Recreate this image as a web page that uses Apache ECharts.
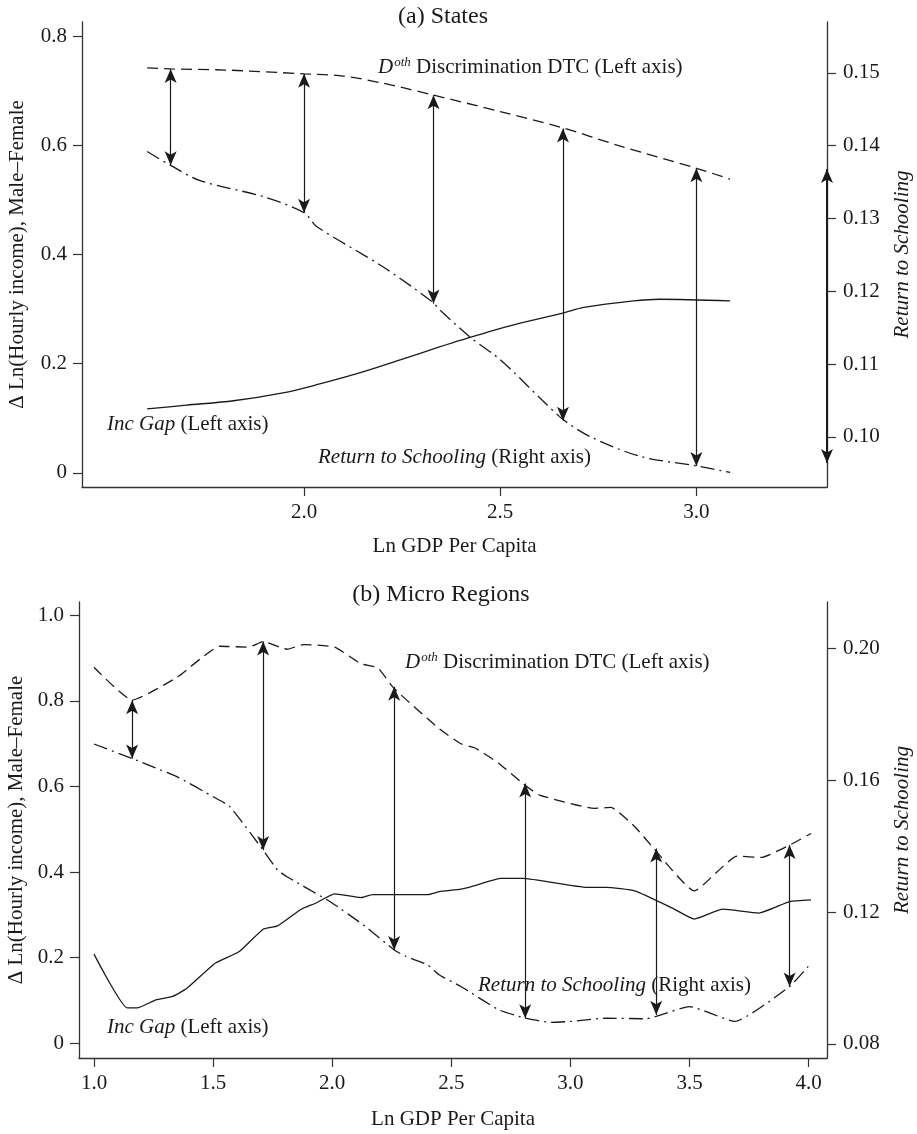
<!DOCTYPE html>
<html>
<head>
<meta charset="utf-8">
<script src="https://cdn.jsdelivr.net/npm/echarts@6/dist/echarts.min.js"></script>
<style>
html,body{margin:0;padding:0;background:#fff;}
#chart{width:917px;height:1134px;}
</style>
</head>
<body>
<div id="chart"></div>
<script>
// ---------- DATA ----------
// Panel (a) States
var statesDothX = [1.60, 1.66, 1.80, 2.00, 2.10, 2.20, 2.33, 2.50, 2.66, 2.80, 3.00, 3.086];
var statesDoth  = [0.742, 0.740, 0.738, 0.731, 0.727, 0.714, 0.692, 0.662, 0.632, 0.600, 0.558, 0.538];

var statesGapX = [1.60, 1.70, 1.82, 1.95, 2.03, 2.15, 2.245, 2.347, 2.40, 2.517, 2.662, 2.713, 2.84, 2.908, 3.086];
var statesGap  = [0.117, 0.124, 0.132, 0.147, 0.161, 0.185, 0.207, 0.231, 0.243, 0.268, 0.293, 0.303, 0.315, 0.318, 0.315];

var statesRetX = [1.60, 1.66, 1.735, 1.896, 2.00, 2.032, 2.20, 2.328, 2.347, 2.423, 2.50, 2.602, 2.662, 2.730, 2.857, 3.00, 3.086];
var statesRet  = [0.1392, 0.1373, 0.1352, 0.1330, 0.1308, 0.1289, 0.1234, 0.1185, 0.1174, 0.1137, 0.1106, 0.1053, 0.1023, 0.1000, 0.0973, 0.0960, 0.0951];

var statesArrowX      = [1.66, 2.00, 2.33, 2.66, 3.00];
var statesArrowTop    = [0.740, 0.731, 0.692, 0.631, 0.558];      // left axis
var statesArrowBottom = [0.1373, 0.1308, 0.1183, 0.1022, 0.0960]; // right axis
var statesRangeArrow  = [0.1368, 0.0964];                          // right axis

var statesXTicks = [2.0, 2.5, 3.0];
var statesXTickLabels = ['2.0', '2.5', '3.0'];
var statesLTicks = [0, 0.2, 0.4, 0.6, 0.8];
var statesLTickLabels = ['0', '0.2', '0.4', '0.6', '0.8'];
var statesRTicks = [0.10, 0.11, 0.12, 0.13, 0.14, 0.15];
var statesRTickLabels = ['0.10', '0.11', '0.12', '0.13', '0.14', '0.15'];

// Panel (b) Micro Regions
var regDothX = [1.00, 1.16, 1.35, 1.53, 1.65, 1.71, 1.81, 1.88, 2.01, 2.12, 2.19, 2.26, 2.45, 2.54, 2.60, 2.70, 2.80, 2.87, 3.10, 3.17, 3.27, 3.35, 3.52, 3.70, 3.80, 3.92, 4.01];
var regDoth  = [0.879, 0.802, 0.856, 0.928, 0.926, 0.939, 0.921, 0.932, 0.926, 0.887, 0.878, 0.829, 0.735, 0.700, 0.690, 0.654, 0.607, 0.580, 0.549, 0.551, 0.506, 0.455, 0.356, 0.437, 0.434, 0.463, 0.490];

var regGapX = [1.00, 1.14, 1.18, 1.26, 1.33, 1.39, 1.51, 1.61, 1.71, 1.77, 1.87, 1.93, 2.01, 2.12, 2.17, 2.40, 2.45, 2.54, 2.59, 2.71, 2.80, 3.07, 3.15, 3.27, 3.43, 3.52, 3.64, 3.79, 3.92, 4.01];
var regGap  = [0.208, 0.082, 0.082, 0.101, 0.109, 0.128, 0.187, 0.214, 0.266, 0.274, 0.313, 0.327, 0.349, 0.340, 0.347, 0.347, 0.354, 0.360, 0.367, 0.385, 0.385, 0.364, 0.364, 0.356, 0.315, 0.290, 0.313, 0.304, 0.331, 0.335];

var regRetX = [1.00, 1.16, 1.35, 1.50, 1.57, 1.71, 1.77, 1.81, 1.99, 2.14, 2.26, 2.31, 2.40, 2.45, 2.54, 2.70, 2.81, 2.92, 3.00, 3.15, 3.32, 3.38, 3.50, 3.69, 3.92, 4.01];
var regRet  = [0.1710, 0.1666, 0.1610, 0.1550, 0.1520, 0.1388, 0.1328, 0.1307, 0.1232, 0.1156, 0.1085, 0.1065, 0.1040, 0.1009, 0.0974, 0.0903, 0.0878, 0.0865, 0.0868, 0.0878, 0.0876, 0.0888, 0.0913, 0.0868, 0.0974, 0.1045];

var regArrowX      = [1.16, 1.71, 2.26, 2.81, 3.36, 3.92];
var regArrowTop    = [0.802, 0.939, 0.833, 0.607, 0.455, 0.463];        // left axis
var regArrowBottom = [0.1666, 0.1388, 0.1085, 0.0878, 0.0888, 0.0974];  // right axis

var regXTicks = [1.0, 1.5, 2.0, 2.5, 3.0, 3.5, 4.0];
var regXTickLabels = ['1.0', '1.5', '2.0', '2.5', '3.0', '3.5', '4.0'];
var regLTicks = [0, 0.2, 0.4, 0.6, 0.8, 1.0];
var regLTickLabels = ['0', '0.2', '0.4', '0.6', '0.8', '1.0'];
var regRTicks = [0.08, 0.12, 0.16, 0.20];
var regRTickLabels = ['0.08', '0.12', '0.16', '0.20'];

// ---------- STYLE / LAYOUT ----------
var FONT = "'Liberation Serif', 'Times New Roman', serif";
var FS = 21;
var INK = '#1a1a1a';
var AX = '#333';
var DASH = [11, 6];
var DASHDOT = [14, 5, 2, 5];

var R = {
  a: {xmin: 1.434, xmax: 3.333, lmin: -0.026, lmax: 0.826, rmin: 0.0931, rmax: 0.1570},
  b: {xmin: 0.937, xmax: 4.077, lmin: -0.035, lmax: 1.0315, rmin: 0.0757, rmax: 0.2141}
};

function pairs(xs, ys) { return xs.map(function (x, i) { return [x, ys[i]]; }); }
function lookup(ticks, labels) {
  return function (v) {
    for (var i = 0; i < ticks.length; i++) if (Math.abs(ticks[i] - v) < 1e-9) return labels[i];
    return '';
  };
}
// map a right-axis value onto the left axis of the same panel (axes share the pixel range)
function rightToLeft(r, v) { return r.lmin + (v - r.rmin) / (r.rmax - r.rmin) * (r.lmax - r.lmin); }

function arrowData(r, xs, tops, bottoms) {
  return xs.map(function (x, i) {
    return [{coord: [x, tops[i]]}, {coord: [x, rightToLeft(r, bottoms[i])]}];
  });
}

var arrowMark = function (data, width) {
  return {
    silent: true, symbol: ['arrow', 'arrow'], symbolSize: [9, 14],
    label: {show: false}, emphasis: {disabled: true},
    lineStyle: {type: 'solid', color: INK, width: width || 1.2},
    data: data
  };
};

function xAxis(grid, r, ticks, labels, nameGap) {
  return {
    type: 'value', gridIndex: grid, min: r.xmin, max: r.xmax,
    name: 'Ln GDP Per Capita', nameLocation: 'middle', nameGap: nameGap,
    nameTextStyle: {fontFamily: FONT, fontSize: FS, color: INK},
    axisLine: {show: true, onZero: false, lineStyle: {color: AX, width: 1.3}},
    axisTick: {show: true, length: 9, customValues: ticks, lineStyle: {color: AX, width: 1.2}},
    axisLabel: {customValues: ticks, formatter: lookup(ticks, labels), margin: 15,
      fontFamily: FONT, fontSize: FS, color: INK},
    splitLine: {show: false}
  };
}
function yAxis(grid, pos, min, max, ticks, labels, name, italic, gap, margin) {
  return {
    type: 'value', gridIndex: grid, position: pos, min: min, max: max,
    name: name, nameLocation: 'middle', nameGap: gap,
    nameTextStyle: {fontFamily: FONT, fontSize: FS, color: INK, fontStyle: italic ? 'italic' : 'normal'},
    axisLine: {show: true, onZero: false, lineStyle: {color: AX, width: 1.3}},
    axisTick: {show: true, length: 9, customValues: ticks, lineStyle: {color: AX, width: 1.2}},
    axisLabel: {customValues: ticks, formatter: lookup(ticks, labels), margin: margin,
      fontFamily: FONT, fontSize: FS, color: INK},
    splitLine: {show: false}
  };
}

function lineSeries(xi, yi, data, dash, smooth, extra) {
  var s = {
    type: 'line', xAxisIndex: xi, yAxisIndex: yi, data: data, symbol: 'none',
    smooth: smooth, clip: false, silent: true,
    lineStyle: {color: INK, width: 1.3, type: dash}
  };
  for (var k in extra) s[k] = extra[k];
  return s;
}

var richDoth = {
  d: {fontFamily: FONT, fontSize: FS, fontStyle: 'italic', fill: INK, color: INK},
  s: {fontFamily: FONT, fontSize: 13, fontStyle: 'italic', fill: INK, color: INK, verticalAlign: 'top', padding: [0, 0, 8, 1]},
  n: {fontFamily: FONT, fontSize: FS, fill: INK, color: INK}
};
var richIt = {
  i: {fontFamily: FONT, fontSize: FS, fontStyle: 'italic', fill: INK, color: INK},
  n: {fontFamily: FONT, fontSize: FS, fill: INK, color: INK}
};

function txt(x, y, text, rich, align, size) {
  return {
    type: 'text', x: x, y: y, silent: true,
    style: {
      text: text, rich: rich, fill: INK,
      font: (size || FS) + 'px ' + FONT,
      align: align || 'left', textAlign: align || 'left',
      verticalAlign: 'middle', textVerticalAlign: 'middle'
    }
  };
}

var option = {
  animation: false,
  backgroundColor: '#fff',
  grid: [
    {left: 82, right: 90, top: 22, height: 465, containLabel: false, outerBoundsMode: 'none'},
    {left: 79, right: 90, top: 602, height: 456, containLabel: false, outerBoundsMode: 'none'}
  ],
  xAxis: [
    xAxis(0, R.a, statesXTicks, statesXTickLabels, 49),
    xAxis(1, R.b, regXTicks, regXTickLabels, 51)
  ],
  yAxis: [
    yAxis(0, 'left', R.a.lmin, R.a.lmax, statesLTicks, statesLTickLabels, 'Δ Ln(Hourly income), Male–Female', false, 54, 15),
    yAxis(0, 'right', R.a.rmin, R.a.rmax, statesRTicks, statesRTickLabels, 'Return to Schooling', true, 65, 16),
    yAxis(1, 'left', R.b.lmin, R.b.lmax, regLTicks, regLTickLabels, 'Δ Ln(Hourly income), Male–Female', false, 51, 15),
    yAxis(1, 'right', R.b.rmin, R.b.rmax, regRTicks, regRTickLabels, 'Return to Schooling', true, 65, 16)
  ],
  series: [
    lineSeries(0, 0, pairs(statesDothX, statesDoth), DASH, 0.3,
      {markLine: arrowMark(arrowData(R.a, statesArrowX, statesArrowTop, statesArrowBottom))}),
    lineSeries(0, 0, pairs(statesGapX, statesGap), 'solid', 0.3, {}),
    lineSeries(0, 1, pairs(statesRetX, statesRet), DASHDOT, 0.3,
      {markLine: arrowMark([[{coord: [R.a.xmax, statesRangeArrow[0]]}, {coord: [R.a.xmax, statesRangeArrow[1]]}]], 2)}),
    lineSeries(1, 2, pairs(regDothX, regDoth), DASH, 0.15,
      {markLine: arrowMark(arrowData(R.b, regArrowX, regArrowTop, regArrowBottom))}),
    lineSeries(1, 2, pairs(regGapX, regGap), 'solid', 0.15, {}),
    lineSeries(1, 3, pairs(regRetX, regRet), DASHDOT, 0.15, {})
  ],
  graphic: [
    txt(443, 17, '(a) States', null, 'center', 24),
    txt(378, 67, '{d|D}{s|oth}{n| Discrimination DTC (Left axis)}', richDoth),
    txt(107, 424, '{i|Inc Gap}{n| (Left axis)}', richIt),
    txt(318, 457, '{i|Return to Schooling}{n| (Right axis)}', richIt),
    txt(441, 595, '(b) Micro Regions', null, 'center', 24),
    txt(405, 662, '{d|D}{s|oth}{n| Discrimination DTC (Left axis)}', richDoth),
    txt(107, 1027, '{i|Inc Gap}{n| (Left axis)}', richIt),
    txt(478, 985, '{i|Return to Schooling}{n| (Right axis)}', richIt)
  ]
};

var chart = echarts.init(document.getElementById('chart'), null, {renderer: 'canvas'});
chart.setOption(option);
</script>
</body>
</html>
